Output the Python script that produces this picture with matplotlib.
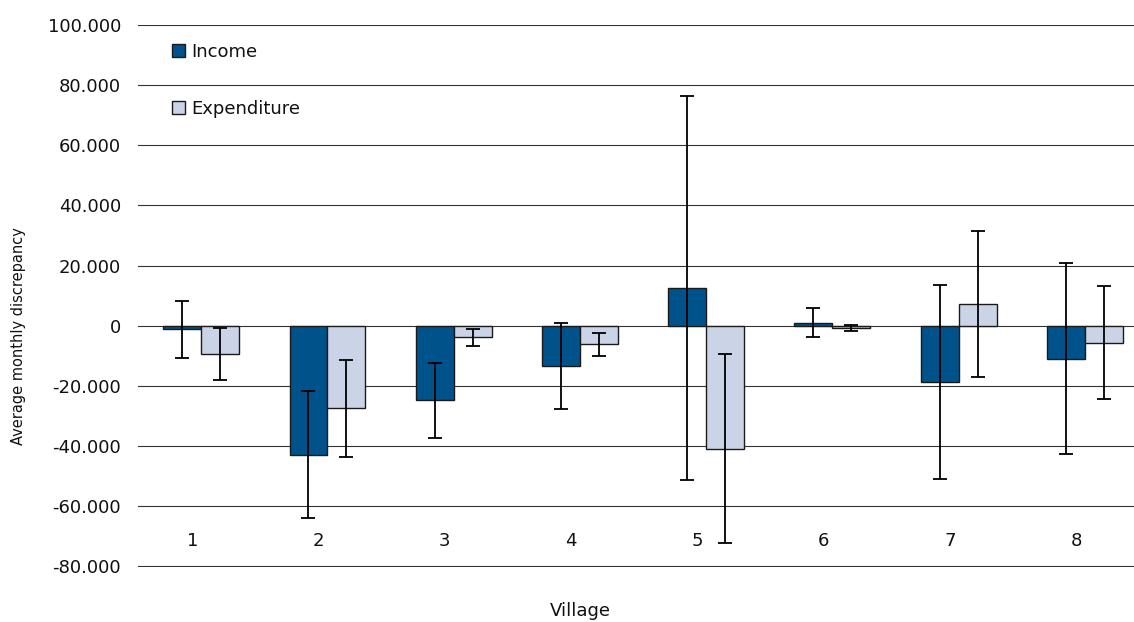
import matplotlib
matplotlib.use("Agg")
import matplotlib.pyplot as plt
import numpy as np

plt.rcParams['font.family'] = ['DejaVu Sans']

villages = ['1', '2', '3', '4', '5', '6', '7', '8']
income = [-1.2, -42.8, -24.8, -13.4, 12.6, 1.1, -18.6, -10.9]
income_err = [9.6, 21.0, 12.6, 14.4, 63.9, 4.9, 32.3, 31.8]
expenditure = [-9.3, -27.4, -3.8, -6.2, -40.8, -0.6, 7.3, -5.6]
expenditure_err = [8.7, 16.1, 2.9, 3.9, 31.4, 1.0, 24.3, 18.7]
yticks = [100, 80, 60, 40, 20, 0, -20, -40, -60, -80]
ytick_labels = ['100.000', '80.000', '60.000', '40.000', '20.000', '0',
                '-20.000', '-40.000', '-60.000', '-80.000']

W, H = 1134, 622
fig = plt.figure(figsize=(W / 100, H / 100), dpi=100)
ax = fig.add_axes([138 / W, 1 - 566.5 / H, 1010 / W, (566.5 - 25) / H])

x = np.arange(1, len(villages) + 1)
bw = 0.3
inc_color = '#00528A'
exp_color = '#CBD4E6'
edge = '#1a1a1a'
err_kw = dict(ecolor='black', elinewidth=1.3, capsize=5, capthick=1.3, zorder=4)

b1 = ax.bar(x - bw / 2, income, bw, color=inc_color, edgecolor=edge, linewidth=1.0,
            yerr=income_err, error_kw=err_kw, zorder=3, label='Income')
b2 = ax.bar(x + bw / 2, expenditure, bw, color=exp_color, edgecolor=edge, linewidth=1.0,
            yerr=expenditure_err, error_kw=err_kw, zorder=3, label='Expenditure')

ax.set_xlim(0.5, len(villages) + 0.5)
ax.set_ylim(-80, 100)
ax.set_yticks(yticks)
ax.set_yticklabels(ytick_labels, fontsize=13, color='#111111')
ax.tick_params(axis='y', length=0, pad=12.3)
ax.set_xticks([])
for s in ax.spines.values():
    s.set_visible(False)
for yv in yticks:
    ax.axhline(yv, color='#333333', linewidth=0.8, zorder=1)

for xi, lab in zip(x, villages):
    ax.text(xi - 0.07, -71.6, lab, ha='center', va='center', fontsize=13, color='#111111')

leg = ax.legend(handles=[b1, b2], loc='upper left',
                bbox_to_anchor=(172 / W, 1 - 43 / H), bbox_transform=fig.transFigure,
                frameon=False, fontsize=13, handlelength=0.7, handleheight=0.7,
                handletextpad=0.35, labelspacing=2.15, borderpad=0, borderaxespad=0)
for t in leg.get_texts():
    t.set_color('#111111')

fig.text(19 / W, 1 - 336 / H, 'Average monthly discrepancy', rotation=90,
         ha='center', va='center', fontsize=10.5, color='#111111')
fig.text(580 / W, 1 - 611 / H, 'Village', ha='center', va='center', fontsize=13,
         color='#111111')

fig.savefig('out.png', dpi=100)
